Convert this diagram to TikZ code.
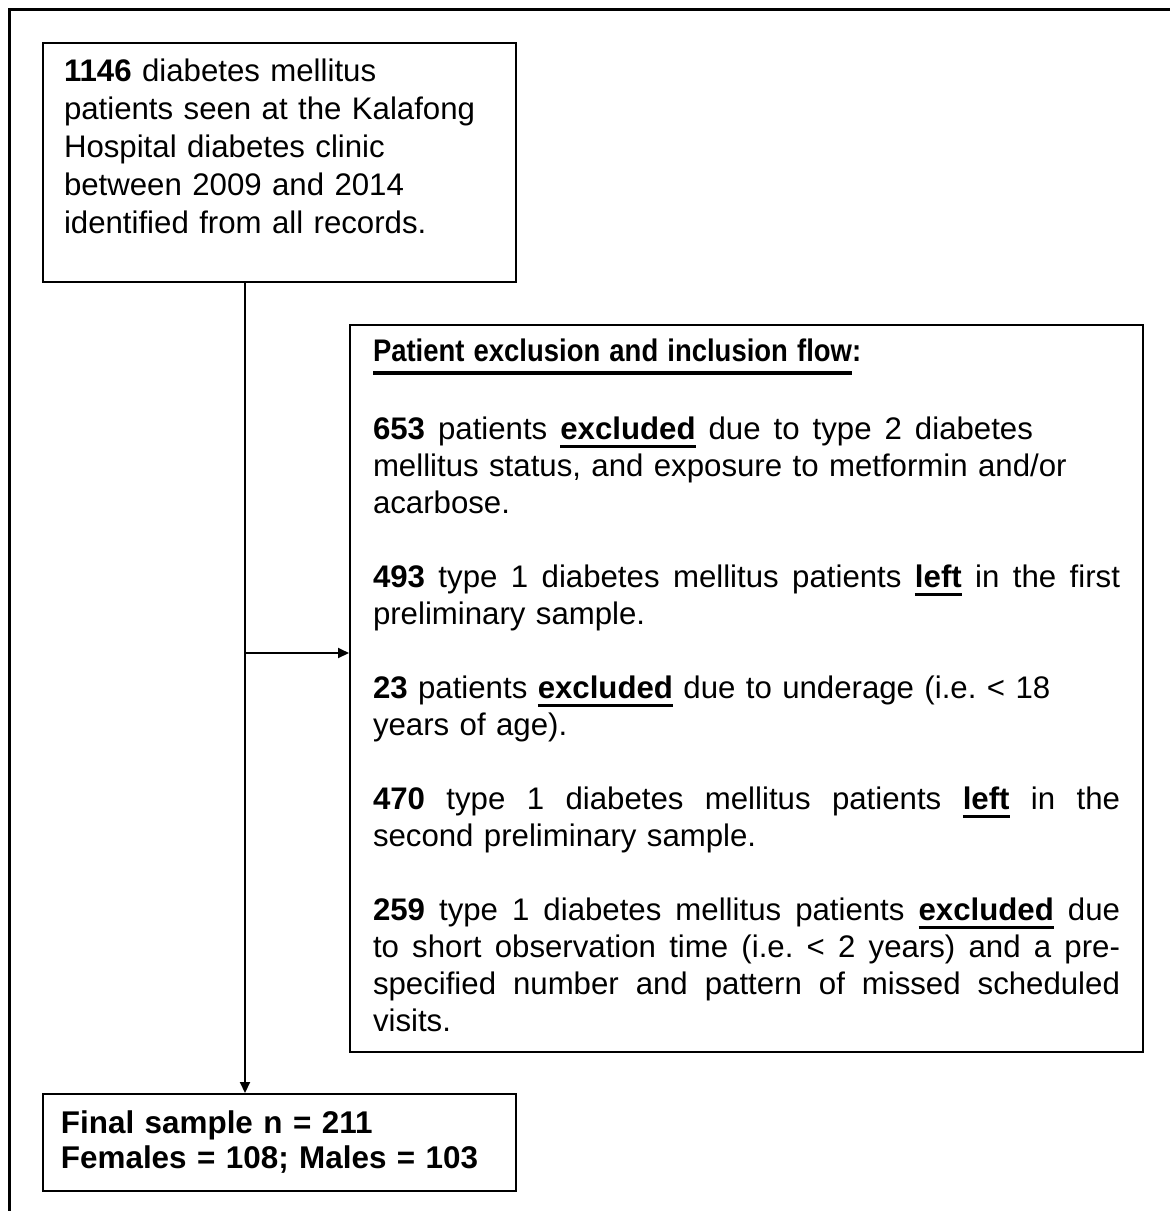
\documentclass[tikz,border=0pt]{standalone}
\usepackage{fontspec}
\usepackage{graphicx}
\setmainfont{Liberation Sans}
\usetikzlibrary{arrows.meta,positioning}

\newcommand{\ulbox}[3]{\setbox0\hbox{#3}\rlap{\smash{\rule[-#1]{\wd0}{#2}}}\box0\relax}
\newcommand{\undl}[1]{\ulbox{4.5pt}{1.5pt}{\textbf{#1}}}
\newcommand{\jline}[2][\hsize]{\makebox[#1][s]{\spaceskip=.3333em plus 1fil\relax #2}}
\newcommand{\botgap}[1]{\rule[-#1]{0pt}{#1}}

\begin{document}
\begin{tikzpicture}[
  x=0.5pt, y=-0.5pt,
  caja/.style={draw, line width=1pt, anchor=north west, align=left, font=\fontsize{15.6pt}{18.5pt}\selectfont},
  flecha/.style={-{Triangle[length=5.5pt, width=5pt]}, line width=1pt}
]
\useasboundingbox (0,0) rectangle (1170,1211);
\draw[line width=1.5pt] (9,1211) -- (9,9) -- (1170,9);

\node[caja, text width=215.5pt, inner xsep=10.5pt, inner ysep=8pt, font=\fontsize{15.6pt}{19pt}\selectfont] (src) at (42,42)
  {\textbf{1146} diabetes mellitus\\
   patients seen at the Kalafong\\
   Hospital diabetes clinic\\
   between 2009 and 2014\\
   identified from all records.\botgap{16pt}};

\node[caja, text width=373.5pt, inner xsep=11.5pt, inner ysep=6.8pt] (excl) at (349,324)
  {\ulbox{7pt}{2pt}{\scalebox{0.88}[1]{\textbf{Patient exclusion and inclusion flow}}}\scalebox{0.88}[1]{\textbf{:}}\\[20.5pt]
   \jline[330pt]{\textbf{653} patients \undl{excluded} due to type 2 diabetes}\\
   mellitus status, and exposure to metformin and/or\\
   acarbose.\\[18.5pt]
   \jline{\textbf{493} type 1 diabetes mellitus patients \undl{left} in the first}\\
   preliminary sample.\\[18.5pt]
   \textbf{23} patients \undl{excluded} due to underage (i.e.\ < 18\\
   years of age).\\[18.5pt]
   \jline{\textbf{470} type 1 diabetes mellitus patients \undl{left} in the}\\
   second preliminary sample.\\[18.5pt]
   \jline{\textbf{259} type 1 diabetes mellitus patients \undl{excluded} due}\\
   \jline{to short observation time (i.e.\ < 2 years) and a pre-}\\
   \jline{specified number and pattern of missed scheduled}\\
   visits.\botgap{3.7pt}};

\node[caja, text width=218.5pt, inner xsep=9pt, inner ysep=8.5pt, font=\fontsize{15.7pt}{17.5pt}\selectfont\bfseries] (final) at (42,1093)
  {Final sample n = 211\\
   Females = 108; Males = 103\botgap{2pt}};

% connectors
\coordinate (branch) at (245,653);
\draw[flecha] (src.south -| branch) -- (final.north -| branch);
\draw[flecha] (branch) -- (branch -| excl.west);
\end{tikzpicture}
\end{document}
